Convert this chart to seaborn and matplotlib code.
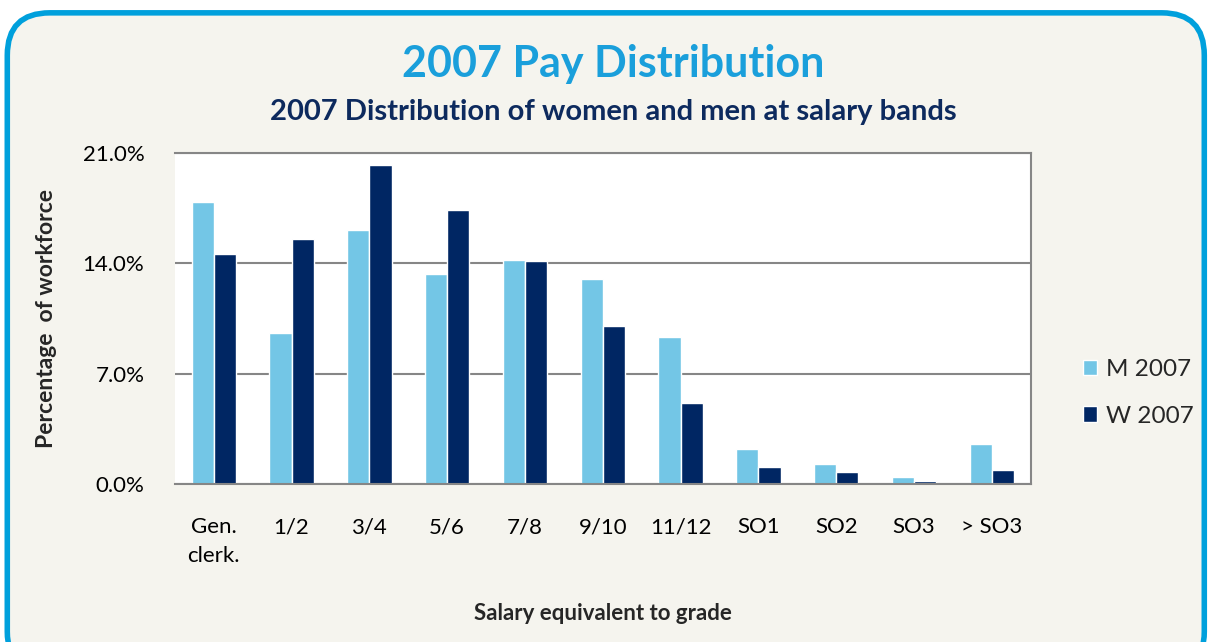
import numpy as np
import pandas as pd

import matplotlib
matplotlib.use("Agg")
import matplotlib.pyplot as plt
from matplotlib.patches import FancyBboxPatch
from matplotlib.ticker import FuncFormatter
import seaborn as sns


GRADES = ["Gen.\nclerk.", "1/2", "3/4", "5/6", "7/8", "9/10", "11/12", "SO1", "SO2", "SO3", "> SO3"]
MEN_2007 = [17.9, 9.6, 16.1, 13.3, 14.2, 13.0, 9.35, 2.2, 1.3, 0.45, 2.55]
WOMEN_2007 = [14.6, 15.55, 20.25, 17.4, 14.15, 10.0, 5.15, 1.1, 0.75, 0.2, 0.9]
SERIES = ["M 2007", "W 2007"]
Y_TICKS = [0, 7, 14, 21]

COLORS = {"M 2007": "#73c6e6", "W 2007": "#002663"}
BG = "#f5f4ee"


def main() -> None:
    sns.set_theme(style="white")
    plt.rcParams["font.family"] = ["Lato", "DejaVu Sans"]

    df = pd.DataFrame({
        "grade": GRADES * 2,
        "pct": MEN_2007 + WOMEN_2007,
        "series": [SERIES[0]] * len(GRADES) + [SERIES[1]] * len(GRADES),
    })

    fig = plt.figure(figsize=(12.14, 6.42), dpi=100)
    fig.patch.set_facecolor("white")

    # rounded panel behind everything
    panel = FancyBboxPatch((0.006, -0.05), 0.986, 1.03, transform=fig.transFigure,
                           boxstyle="round,pad=0,rounding_size=0.035",
                           facecolor=BG, edgecolor="#00a0dc", linewidth=4,
                           mutation_aspect=1214 / 642, zorder=-10)
    fig.patches.append(panel)

    ax = fig.add_axes([0.144, 0.246, 0.705, 0.516])
    sns.barplot(data=df, x="grade", y="pct", hue="series", palette=COLORS,
                width=0.57, saturation=1, ax=ax, legend=True, errorbar=None)

    ax.set_facecolor("white")
    ax.set_ylim(0, 21)
    ax.set_yticks(Y_TICKS)
    ax.yaxis.set_major_formatter(FuncFormatter(lambda v, _: f"{v:.1f}%"))
    ax.yaxis.grid(True, color="#868686", linewidth=1.5)
    ax.set_axisbelow(True)
    ax.spines["left"].set_visible(False)
    for side in ["top", "right", "bottom"]:
        ax.spines[side].set_color("#868686")
        ax.spines[side].set_linewidth(1.5)
    ax.tick_params(axis="both", length=0, labelsize=16, colors="black")
    ax.tick_params(axis="x", pad=24)
    ax.tick_params(axis="y", pad=22)
    for lbl in ax.get_xticklabels():
        lbl.set_linespacing(1.55)

    ax.set_xlabel("Salary equivalent to grade", fontsize=16, fontweight="bold")
    ax.set_ylabel("Percentage  of workforce", fontsize=16.5, fontweight="bold")
    ax.xaxis.set_label_coords(0.5, -0.36)
    ax.yaxis.set_label_coords(-0.138, 0.5)

    ax.legend(loc="center left", bbox_to_anchor=(1.035, 0.275), frameon=False,
              fontsize=17.5, handlelength=0.6, handleheight=0.6, handletextpad=0.35,
              labelspacing=1.05)

    fig.text(0.505, 0.9, "2007 Pay Distribution", ha="center", va="center",
             fontsize=31, fontweight="bold", color="#1a9fdb")
    fig.text(0.505, 0.825, "2007 Distribution of women and men at salary bands",
             ha="center", va="center", fontsize=21, fontweight="bold", color="#0d2a5e")

    fig.savefig("out.png", dpi=100, facecolor=fig.get_facecolor())
    plt.close(fig)


if __name__ == "__main__":
    main()
